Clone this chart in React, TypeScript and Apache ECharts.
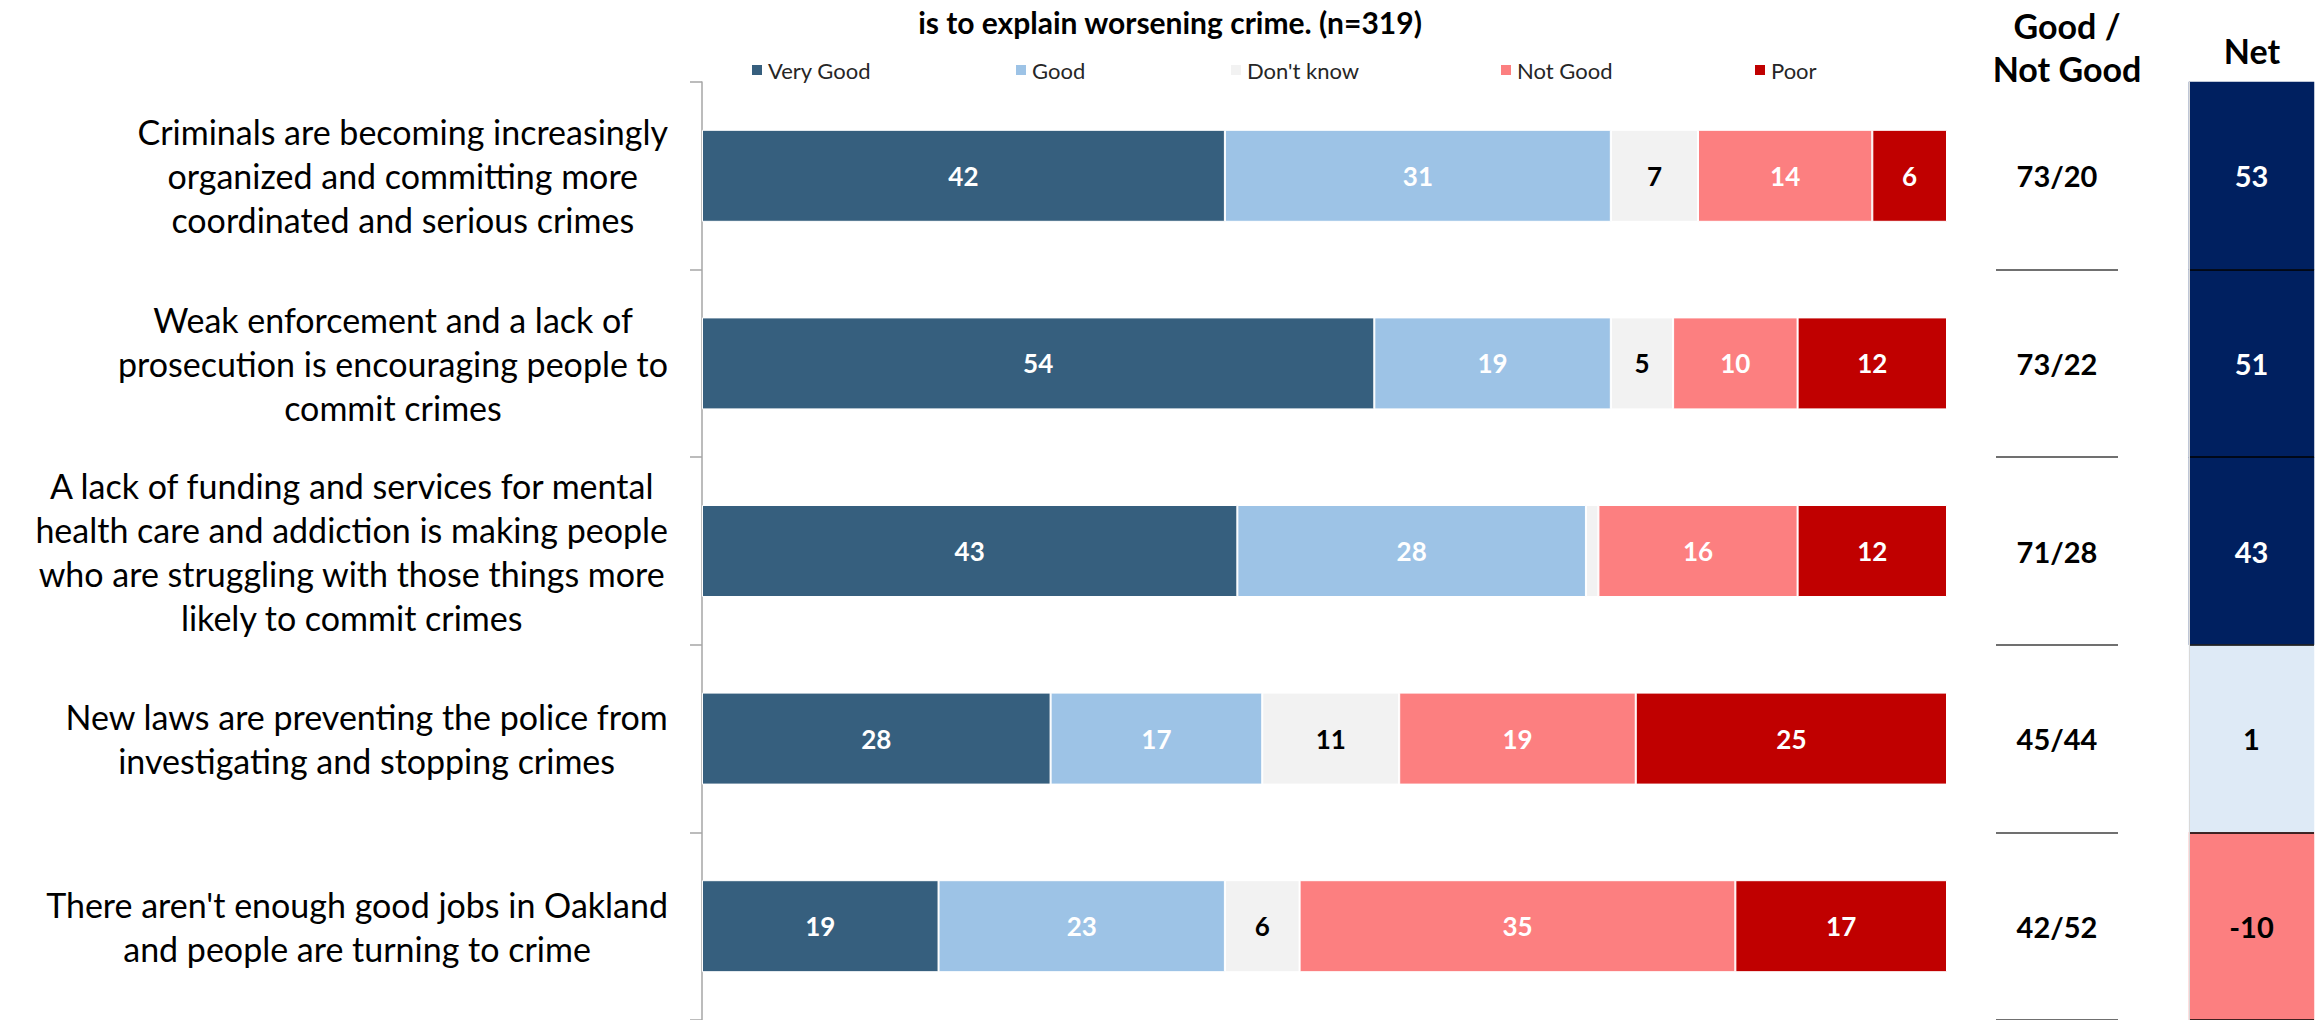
import React, { useEffect, useRef } from 'react';
import * as echarts from 'echarts';

const categories = [
  'Criminals are becoming increasingly\norganized and committing more\ncoordinated and serious crimes',
  'Weak enforcement and a lack of\nprosecution is encouraging people to\ncommit crimes',
  'A lack of funding and services for mental\nhealth care and addiction is making people\nwho are struggling with those things more\nlikely to commit crimes',
  'New laws are preventing the police from\ninvestigating and stopping crimes',
  "There aren't enough good jobs in Oakland\nand people are turning to crime",
];
const seriesNames = ['Very Good', 'Good', "Don't know", 'Not Good', 'Poor'];
const veryGood = [42, 54, 43, 28, 19];
const good = [31, 19, 28, 17, 23];
const dontKnow = [7, 5, 1, 11, 6];
const notGood = [14, 10, 16, 19, 35];
const poor = [6, 12, 12, 25, 17];
const titleText = 'is to explain worsening crime. (n=319)';
const goodHeader = 'Good /\nNot Good';
const netHeader = 'Net';

const FONT = 'Lato, "Open Sans", sans-serif';

export default function App() {
  const ref = useRef<HTMLDivElement>(null);
  useEffect(() => {
    if (!ref.current) return;
    const chart = echarts.init(ref.current, undefined, { renderer: 'svg' });
    const stackData = [veryGood, good, dontKnow, notGood, poor];
    const colors = ['#365F7E', '#9DC3E6', '#F2F2F2', '#FC7F80', '#C00000'];
    const legendLefts = [750, 1014, 1229, 1499, 1753];
    const goodTotals = veryGood.map((v, i) => v + good[i]);
    const notGoodTotals = notGood.map((v, i) => v + poor[i]);
    const nets = goodTotals.map((g, i) => g - notGoodTotals[i]);

    const splitInterval = (index: number) => index > 0;

    const mainSeries = seriesNames.map((name, i) => ({
      type: 'bar',
      name,
      stack: 'total',
      xAxisIndex: 0,
      yAxisIndex: 0,
      data: stackData[i],
      barWidth: 92,
      itemStyle: { color: colors[i], borderColor: '#ffffff', borderWidth: 1 },
      label: {
        show: true,
        position: 'inside',
        formatter: (p: any) => (p.value >= 2 ? String(p.value) : ''),
        color: i === 2 ? '#000000' : '#ffffff',
        fontFamily: FONT,
        fontWeight: 'bold',
        fontSize: 26,
      },
    }));

    const option: any = {
      animation: false,
      backgroundColor: '#ffffff',
      legend: seriesNames.map((name, i) => ({
        data: [name],
        left: legendLefts[i],
        top: 59,
        padding: 0,
        icon: 'rect',
        itemWidth: 12,
        itemHeight: 12,
        selectedMode: false,
        textStyle: { fontFamily: FONT, fontSize: 22, color: '#262626' },
      })),
      grid: [
        { left: 702, width: 1245, top: 82, height: 940 },
        { left: 1996, width: 122, top: 82, height: 940 },
        { left: 2189, width: 125, top: 82, height: 940 },
      ],
      xAxis: [
        { type: 'value', gridIndex: 0, min: 0, max: 100, show: false },
        { type: 'category', gridIndex: 1, data: ['Good / Not Good'], show: false },
        { type: 'category', gridIndex: 2, data: ['Net'], show: false },
      ],
      yAxis: [
        {
          type: 'category',
          gridIndex: 0,
          inverse: true,
          data: categories,
          axisLine: { show: true, lineStyle: { color: '#A6A6A6', width: 1.5 } },
          axisTick: { show: true, length: 12, lineStyle: { color: '#A6A6A6', width: 1.5 } },
          axisLabel: {
            margin: 34,
            formatter: (v: string) => v.split('\n').map((l) => `{c|${l}}`).join('\n'),
            rich: {
              c: { align: 'center', fontFamily: FONT, fontSize: 34, lineHeight: 44, color: '#000000' },
            },
          },
        },
        {
          type: 'category',
          gridIndex: 1,
          inverse: true,
          data: categories,
          axisLine: { show: false },
          axisTick: { show: false },
          axisLabel: { show: false },
          splitLine: { show: true, interval: splitInterval, lineStyle: { color: '#404040', width: 1.5 } },
        },
        {
          type: 'category',
          gridIndex: 2,
          inverse: true,
          z: 10,
          data: categories,
          axisLine: { show: true, lineStyle: { color: '#D9D9D9', width: 1 } },
          axisTick: { show: false },
          axisLabel: { show: false },
          splitLine: { show: true, interval: splitInterval, lineStyle: { color: '#000000', width: 1.5 } },
        },
      ],
      visualMap: {
        type: 'piecewise',
        show: false,
        seriesIndex: 6,
        dimension: 2,
        pieces: [
          { gte: 10, color: '#002060' },
          { gt: -5, lt: 10, color: '#DEEAF6' },
          { lte: -5, color: '#FC7F80' },
        ],
      },
      series: [
        ...mainSeries,
        {
          type: 'scatter',
          xAxisIndex: 1,
          yAxisIndex: 1,
          symbol: 'rect',
          symbolSize: 1,
          itemStyle: { color: '#ffffff', opacity: 1 },
          data: goodTotals.map((g, i) => ({ value: [0, i], name: `${g}/${notGoodTotals[i]}` })),
          label: {
            show: true,
            position: 'inside',
            opacity: 1,
            formatter: (p: any) => `{v|${p.name}}`,
            rich: {
              v: { color: '#000000', fontFamily: FONT, fontWeight: 'bold', fontSize: 29 },
            },
          },
        },
        {
          type: 'heatmap',
          xAxisIndex: 2,
          yAxisIndex: 2,
          data: nets.map((n, i) => ({
            value: [0, i, n],
            label: { color: n >= 10 ? '#ffffff' : '#000000' },
          })),
          label: {
            show: true,
            formatter: (p: any) => String(p.value[2]),
            fontFamily: FONT,
            fontWeight: 'bold',
            fontSize: 29,
          },
        },
      ],
      graphic: [
        {
          type: 'text',
          x: 1170,
          y: 22,
          style: { text: titleText, fill: '#000000', font: `bold 30px ${FONT}`, align: 'center', verticalAlign: 'middle' },
        },
        {
          type: 'text',
          x: 2067,
          y: 47,
          style: { text: goodHeader, fill: '#000000', font: `bold 34px ${FONT}`, lineHeight: 43, align: 'center', verticalAlign: 'middle' },
        },
        {
          type: 'text',
          x: 2252,
          y: 50,
          style: { text: netHeader, fill: '#000000', font: `bold 34px ${FONT}`, align: 'center', verticalAlign: 'middle' },
        },
      ],
    };
    chart.setOption(option);
    return () => chart.dispose();
  }, []);
  return (
    <div
      ref={ref}
      style={{ position: 'fixed', left: 0, top: 0, width: 2323, height: 1020, background: '#ffffff' }}
    />
  );
}
